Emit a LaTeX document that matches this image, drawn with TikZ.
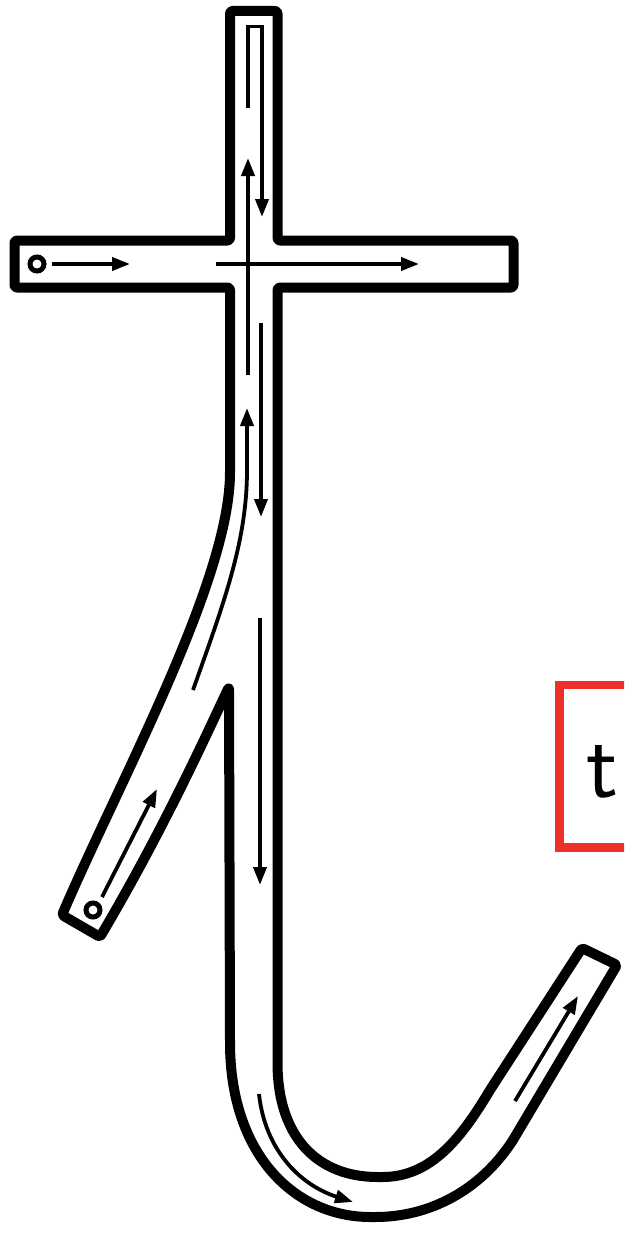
\documentclass[tikz,border=0pt]{standalone}
\usetikzlibrary{arrows.meta}
\definecolor{boxred}{RGB}{238,48,44}
\tikzset{
  outline/.style={line width=10pt, line join=round, rounded corners=2.5pt},
  guide/.style={line width=3.8pt},
  guidearrow/.style={guide, -{Triangle[length=18pt,width=13pt]}},
  startring/.style={line width=5pt},
}
\begin{document}
\begin{tikzpicture}[x=1pt,y=-1pt]
\useasboundingbox (0,0) rectangle (624,1236);
\clip (0,0) rectangle (624,1236);
% outline of the letter
\draw[outline] (100,937)
 .. controls (168,822) and (213,720) .. (229,687)
 -- (230,1040)
 .. controls (230,1155) and (295,1217) .. (373,1217)
 .. controls (430,1217) and (480,1190) .. (513,1140)
 -- (617,965) -- (582,948) -- (490,1090)
 .. controls (460,1140) and (430,1177) .. (380,1177)
 .. controls (320,1177) and (277.5,1140) .. (277.5,1060)
 -- (277.5,287.5) -- (513.5,287.5) -- (513.5,240.5) -- (277.5,240.5)
 -- (277.5,11) -- (230,11) -- (230,240.5) -- (14.5,240.5) -- (14.5,287.5)
 -- (230,287.5) -- (230,470)
 .. controls (230,580) and (120,780) .. (62,915) -- cycle;
% stroke 1
\draw[startring] (37,264) circle[radius=7];
\coordinate (a1s) at (52,264); \coordinate (a1e) at (130,264);
\draw[guidearrow] (a1s) -- (a1e);
\coordinate (a2s) at (216,264); \coordinate (a2e) at (419,264);
\draw[guidearrow] (a2s) -- (a2e);
% stroke 2
\draw[startring] (93,910) circle[radius=7];
\coordinate (b1s) at (102,897); \coordinate (b1e) at (157,789);
\draw[guidearrow] (b1s) -- (b1e);
\coordinate (b2s) at (193,690); \coordinate (b2m) at (247,470); \coordinate (b2e) at (247,408);
\draw[guidearrow] (b2s) .. controls (225,600) and (247,540) .. (b2m) -- (b2e);
\coordinate (b3s) at (248,375); \coordinate (b3e) at (248,158);
\draw[guidearrow] (b3s) -- (b3e);
\coordinate (b4s) at (248,108); \coordinate (b4e) at (262,217);
\draw[guidearrow] (b4s) -- (248,26.5) -- (262,26.5) -- (b4e);
\coordinate (b5s) at (261,323); \coordinate (b5e) at (261,517);
\draw[guidearrow] (b5s) -- (b5e);
\coordinate (b6s) at (260,618); \coordinate (b6e) at (260,885);
\draw[guidearrow] (b6s) -- (b6e);
\coordinate (b7s) at (259,1094); \coordinate (b7e) at (353,1202);
\draw[guidearrow] (b7s) .. controls (265,1150) and (300,1185) .. (b7e);
\coordinate (b8s) at (515,1101); \coordinate (b8e) at (578,996);
\draw[guidearrow] (b8s) -- (b8e);
% red box with the letter
\draw[boxred, line width=8.5pt] (720,685) -- (559.5,685) -- (559.5,847.5) -- (720,847.5);
\node[anchor=base west, inner sep=0pt, font=\sffamily\fontsize{94}{94}\selectfont] (lbl) at (586,797) {t};
\end{tikzpicture}
\end{document}
